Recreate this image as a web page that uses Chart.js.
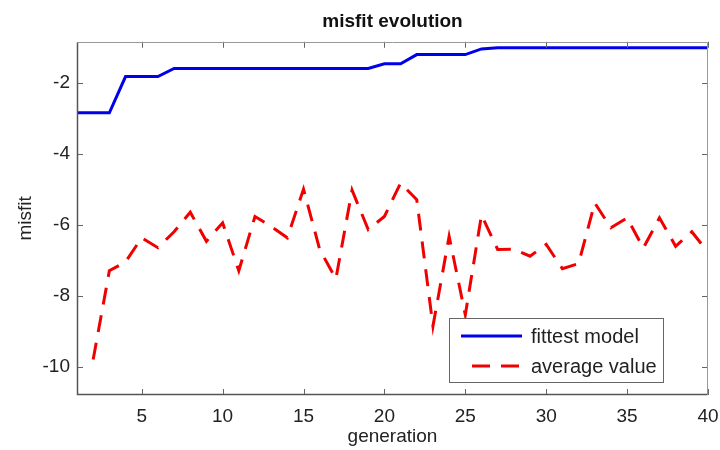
<!DOCTYPE html>
<html>
<head>
<meta charset="utf-8">
<script src="https://cdn.jsdelivr.net/npm/chart.js@4"></script>
<style>
  html, body { margin: 0; padding: 0; background: #fff; }
  #wrap { width: 720px; height: 450px; }
</style>
</head>
<body>
<div id="wrap"><canvas id="c" width="720" height="450"></canvas></div>
<script>
const generations = [1,2,3,4,5,6,7,8,9,10,11,12,13,14,15,16,17,18,19,20,21,22,23,24,25,26,27,28,29,30,31,32,33,34,35,36,37,38,39,40];
const fittestModel = [-2.85,-2.85,-2.85,-1.83,-1.83,-1.83,-1.6,-1.6,-1.6,-1.6,-1.6,-1.6,-1.6,-1.6,-1.6,-1.6,-1.6,-1.6,-1.6,-1.47,-1.47,-1.21,-1.21,-1.21,-1.21,-1.05,-1.02,-1.02,-1.02,-1.02,-1.02,-1.02,-1.02,-1.02,-1.02,-1.02,-1.02,-1.02,-1.02,-1.02];
const averageValue = [null,-9.8,-7.3,-7.05,-6.37,-6.65,-6.2,-5.65,-6.47,-5.95,-7.3,-5.77,-6.05,-6.37,-5.0,-6.7,-7.53,-5.03,-6.14,-5.77,-4.83,-5.3,-8.86,-6.33,-8.54,-5.73,-6.7,-6.69,-6.89,-6.56,-7.24,-7.1,-5.39,-6.09,-5.81,-6.66,-5.81,-6.61,-6.2,-6.78];
const xTicks = [5,10,15,20,25,30,35,40];
const yTicks = [-10,-8,-6,-4,-2];
const seriesLabels = ['fittest model', 'average value'];

const FONT = "'Liberation Sans', Arial, sans-serif";

const framePlugin = {
  id: 'frame',
  afterDatasetsDraw(chart) {
    const {ctx, chartArea: a, scales: {x, y}} = chart;
    ctx.save();
    ctx.lineWidth = 1;
    const tl = 6;
    ctx.strokeStyle = '#666';
    ctx.beginPath();
    xTicks.forEach(v => {
      const px = Math.round(x.getPixelForValue(v)) + 0.5;
      ctx.moveTo(px, a.bottom); ctx.lineTo(px, a.bottom - tl);
      ctx.moveTo(px, a.top); ctx.lineTo(px, a.top + tl);
    });
    yTicks.forEach(v => {
      const py = Math.round(y.getPixelForValue(v)) + 0.5;
      ctx.moveTo(a.left, py); ctx.lineTo(a.left + tl, py);
      ctx.moveTo(a.right, py); ctx.lineTo(a.right - tl, py);
    });
    ctx.stroke();
    const L = Math.round(a.left) + 0.5, R = Math.round(a.right) - 0.5;
    const T = Math.round(a.top) + 0.5, B = Math.round(a.bottom) - 0.5;
    ctx.strokeStyle = '#999';
    ctx.beginPath();
    ctx.moveTo(L, T); ctx.lineTo(R, T); ctx.lineTo(R, B);
    ctx.stroke();
    ctx.strokeStyle = '#555';
    ctx.lineWidth = 1.5;
    ctx.beginPath();
    ctx.moveTo(L, T); ctx.lineTo(L, B); ctx.lineTo(R, B);
    ctx.stroke();
    ctx.restore();
  },
  afterDraw(chart) {
    const {ctx, chartArea: a} = chart;
    const ds = chart.data.datasets;
    const w = 214, h = 64;
    const bx = a.right - 45 - w, by = a.bottom - 13 - h;
    ctx.save();
    ctx.fillStyle = '#fff';
    ctx.fillRect(bx, by, w, h);
    ctx.strokeStyle = '#666';
    ctx.lineWidth = 1;
    ctx.strokeRect(Math.round(bx) + 0.5, Math.round(by) + 0.5, w, h);
    ctx.font = "20px " + FONT;
    ctx.textBaseline = 'middle';
    ctx.fillStyle = '#222';
    const rows = [by + 18, by + 48];
    ds.forEach((d, i) => {
      const ly = rows[i];
      ctx.strokeStyle = d.borderColor;
      ctx.lineWidth = 3;
      if (d.borderDash && d.borderDash.length) {
        ctx.setLineDash([18, 11]);
        ctx.lineDashOffset = 18;
      } else {
        ctx.setLineDash([]);
      }
      ctx.beginPath();
      ctx.moveTo(bx + 12, ly);
      ctx.lineTo(bx + 73, ly);
      ctx.stroke();
      ctx.setLineDash([]);
      ctx.fillText(d.label, bx + 82, ly + 1);
    });
    ctx.restore();
  }
};

new Chart(document.getElementById('c'), {
  type: 'line',
  data: {
    datasets: [
      {
        label: seriesLabels[0],
        data: generations.map((g, i) => ({x: g, y: fittestModel[i]})),
        borderColor: 'rgb(0,0,235)',
        borderWidth: 3,
        pointRadius: 0,
        tension: 0,
        fill: false
      },
      {
        label: seriesLabels[1],
        data: generations.map((g, i) => ({x: g, y: averageValue[i]})),
        borderColor: 'rgb(240,0,0)',
        borderWidth: 3,
        borderDash: [17, 11],
        pointRadius: 0,
        tension: 0,
        fill: false,
        spanGaps: false
      }
    ]
  },
  options: {
    responsive: false,
    animation: false,
    devicePixelRatio: 1,
    layout: { padding: { left: 0, right: 12, top: 0, bottom: 0 } },
    plugins: {
      legend: { display: false },
      tooltip: { enabled: false },
      title: {
        display: true,
        text: 'misfit evolution',
        color: '#111',
        font: { family: FONT, size: 19, weight: 'bold' },
        padding: { top: 10, bottom: 9 },
        fullSize: false
      }
    },
    scales: {
      x: {
        type: 'linear',
        min: 1,
        max: 40,
        afterBuildTicks: s => { s.ticks = xTicks.map(v => ({value: v})); },
        afterFit: s => { s.height = 55; s.paddingRight = 0; s.paddingLeft = 0; },
        grid: { display: false, drawTicks: false },
        border: { display: false },
        ticks: { color: '#222', font: { family: FONT, size: 19 }, padding: 10, maxRotation: 0 },
        title: { display: true, text: 'generation', color: '#222', font: { family: FONT, size: 19 }, padding: { top: 0, bottom: 2 } }
      },
      y: {
        type: 'linear',
        min: -10.8,
        max: -0.85,
        afterBuildTicks: s => { s.ticks = yTicks.map(v => ({value: v})); },
        afterFit: s => { s.width = 77; },
        grid: { display: false, drawTicks: false },
        border: { display: false },
        ticks: { color: '#222', font: { family: FONT, size: 19 }, padding: 7 },
        title: { display: true, text: 'misfit', color: '#222', font: { family: FONT, size: 19 }, padding: { top: 14, bottom: 0 } }
      }
    }
  },
  plugins: [framePlugin]
});
</script>
</body>
</html>
